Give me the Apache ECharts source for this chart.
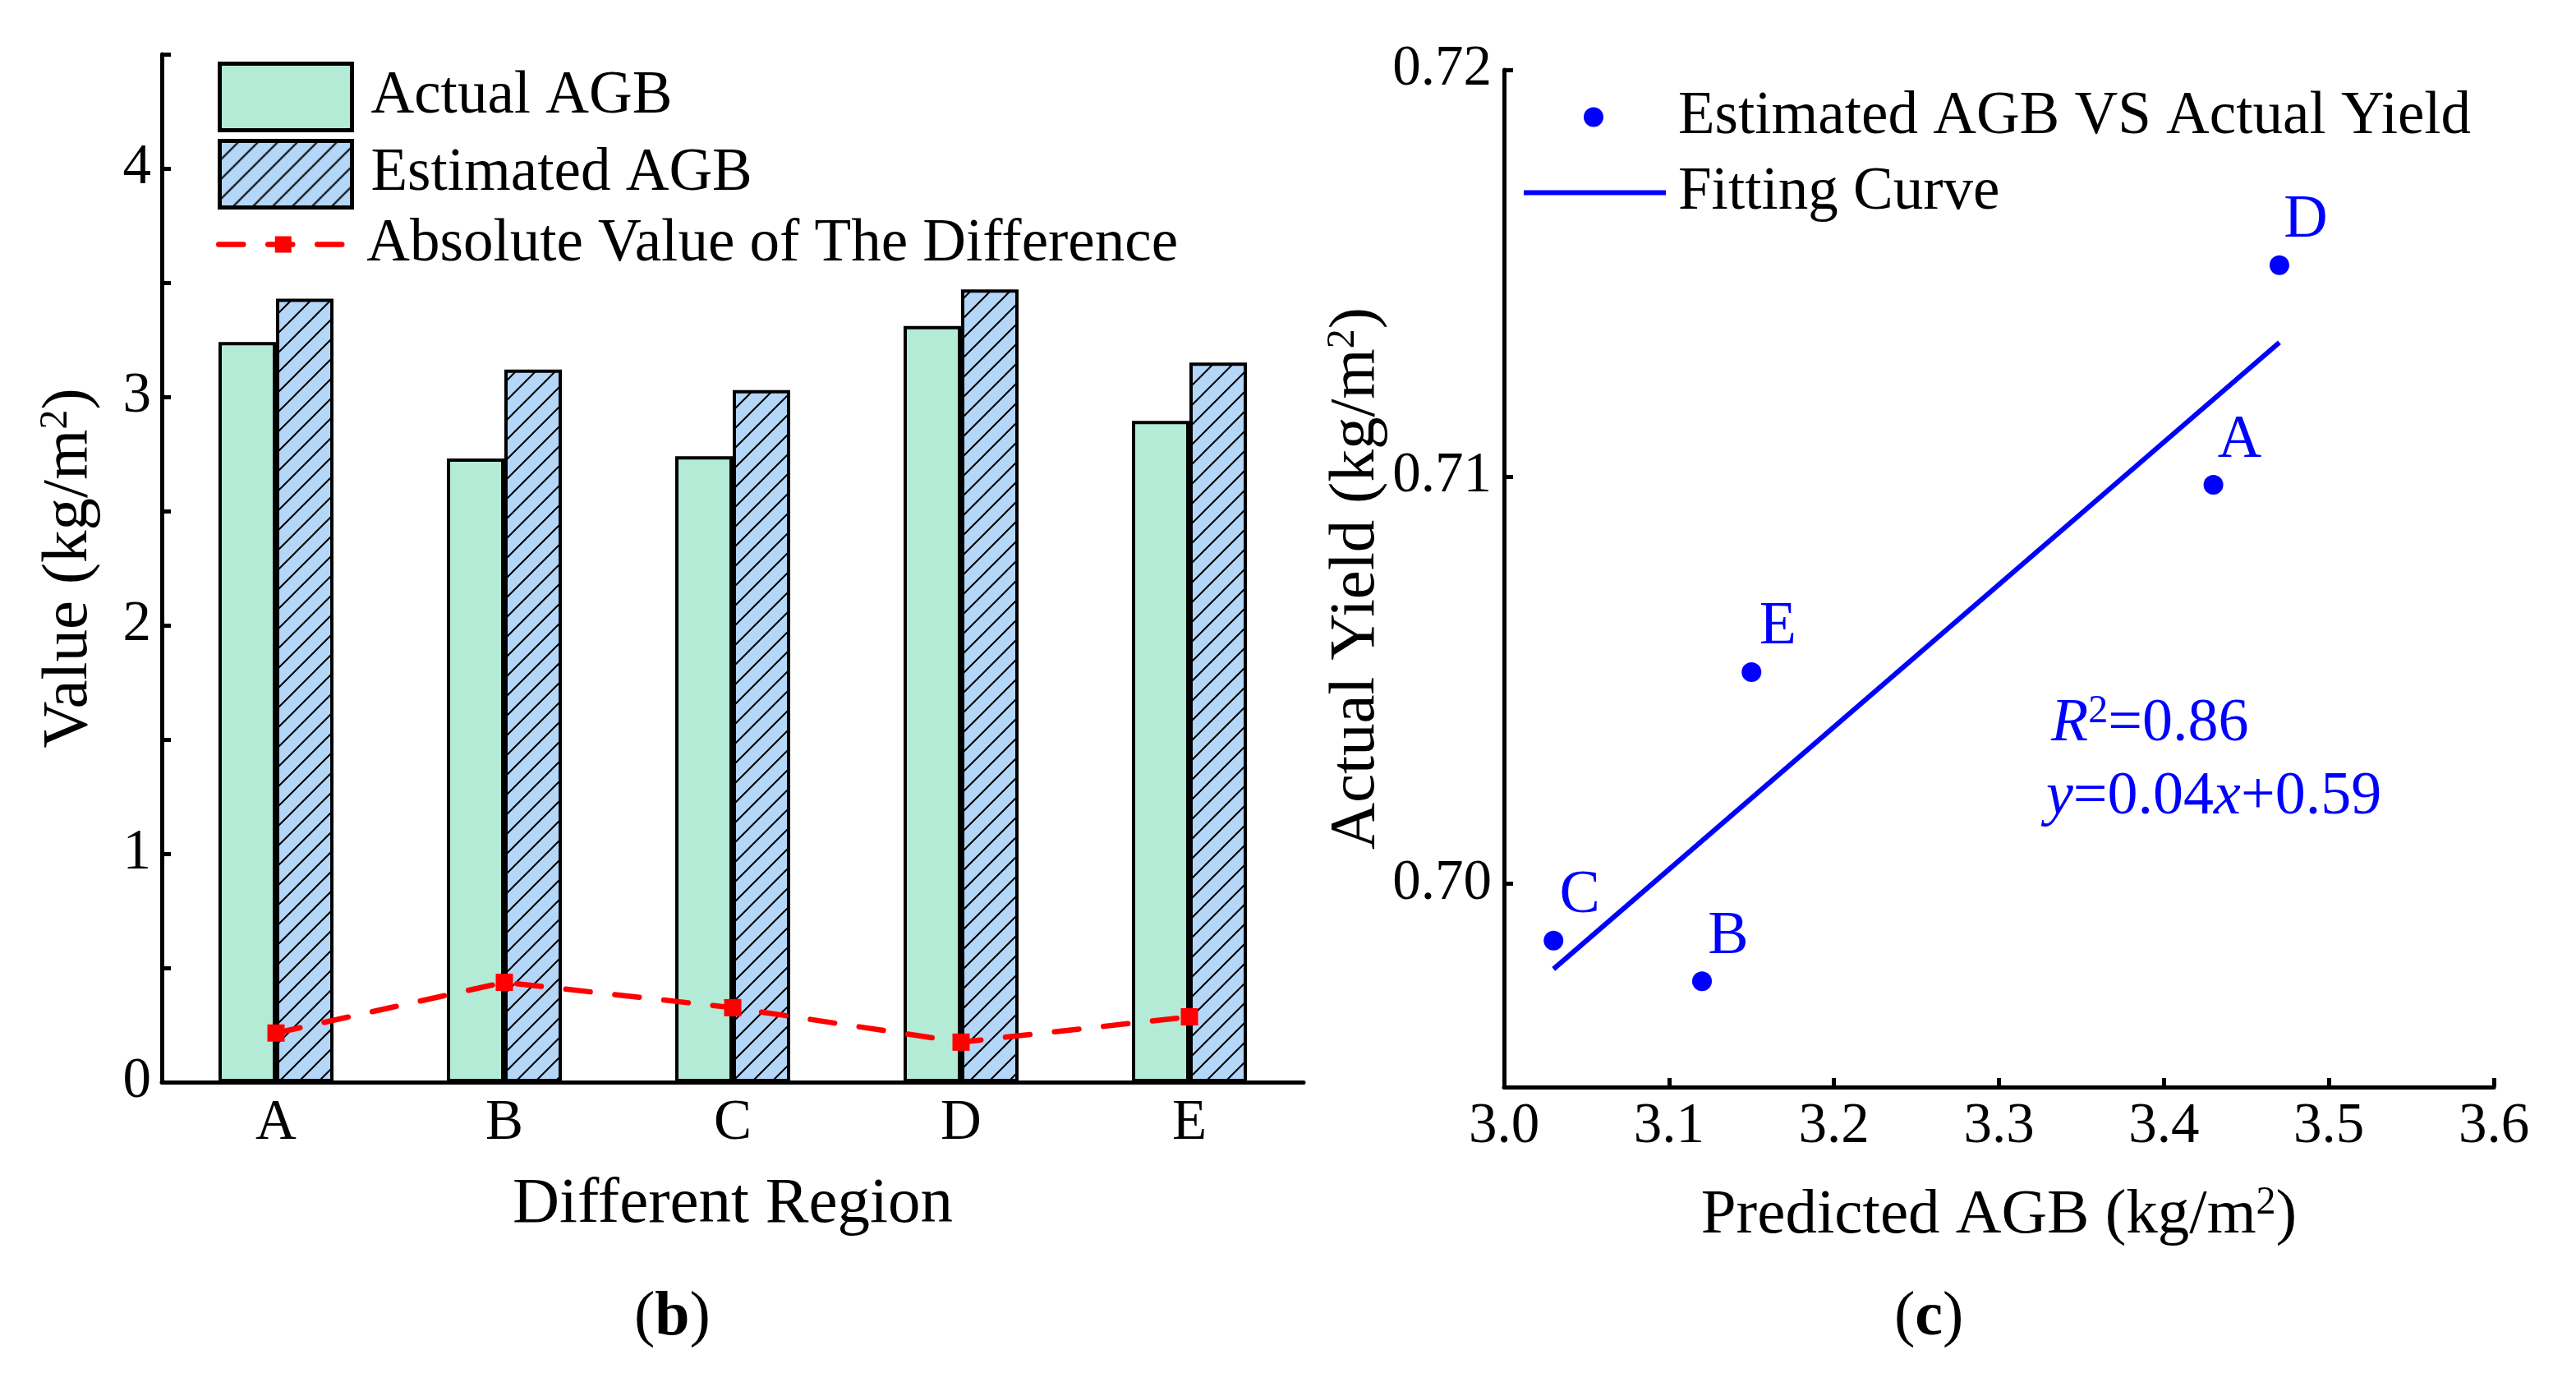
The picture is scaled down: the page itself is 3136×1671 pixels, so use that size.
<!DOCTYPE html>
<html lang="en">
<head>
<meta charset="UTF-8">
<title>AGB comparison</title>
<script src="https://cdn.jsdelivr.net/npm/echarts@6/dist/echarts.min.js"></script>
<style>
  html, body { margin: 0; padding: 0; background: #fff; }
  #chart { width: 3136px; height: 1671px; }
</style>
</head>
<body>
<div id="chart"></div>
<script>
// values
const regions = ['A', 'B', 'C', 'D', 'E'];
const actualAGB = [3.24, 2.73, 2.74, 3.31, 2.895];
const estimatedAGB = [3.43, 3.12, 3.03, 3.47, 3.15];
const absDiff = [0.215, 0.437, 0.326, 0.175, 0.286];
const actualYield = [0.7098, 0.6976, 0.6986, 0.7152, 0.7052];
const fitX = [3.03, 3.47];
const fitY = [0.6979, 0.7133];

const FONT = 'Liberation Serif';
const BLUE = '#0000ff';

// hatch tile for the estimated bars
function hatch() {
    const c = document.createElement('canvas');
    c.width = 24; c.height = 24;
    const g = c.getContext('2d');
    g.fillStyle = '#b4d6f7';
    g.fillRect(0, 0, 24, 24);
    g.strokeStyle = '#000';
    g.lineWidth = 2;
    g.beginPath();
    g.moveTo(-2, 26); g.lineTo(26, -2);
    g.moveTo(-2, 2); g.lineTo(2, -2);
    g.moveTo(22, 26); g.lineTo(26, 22);
    g.stroke();
    return c;
}

const supRich = {
    sup: { fontSize: 48, lineHeight: 32, verticalAlign: 'top', fontFamily: FONT, color: '#000' }
};

const axisLine = { show: true, lineStyle: { color: '#000', width: 5 } };
const axisTick = { show: true, inside: true, length: 11, lineStyle: { color: '#000', width: 5 } };
const tickLabel = { color: '#000', fontSize: 69, fontFamily: FONT, lineHeight: 70 };

function nameStyle(size) {
    return { color: '#000', fontSize: size, fontFamily: FONT, lineHeight: 80, rich: supRich };
}

function legendText(pad) {
    return { fontSize: 73, fontFamily: FONT, color: '#000', lineHeight: 72, padding: [0, 0, 0, pad] };
}

const chart = echarts.init(document.getElementById('chart'));
chart.setOption({
    animation: false,
    backgroundColor: '#fff',
    textStyle: { fontFamily: FONT },
    grid: [
        { left: 197, top: 66, width: 1390, height: 1251 },
        { left: 1831, top: 85, width: 1205, height: 1238 }
    ],
    legend: [
        {
            data: [{ name: 'Actual AGB', icon: 'rect' }, { name: 'Estimated AGB', icon: 'rect' }],
            orient: 'vertical', left: 265, top: 75, padding: 0,
            itemWidth: 161, itemHeight: 81, itemGap: 8, selectedMode: false,
            itemStyle: { borderWidth: 5, borderColor: '#000' },
            textStyle: legendText(18)
        },
        {
            data: ['Absolute Value of The Difference'],
            left: 263, top: 261, padding: 0,
            itemWidth: 157, itemHeight: 25, selectedMode: false,
            lineStyle: { width: 6.5 },
            textStyle: legendText(18)
        },
        {
            data: [{ name: 'Estimated AGB VS Actual Yield', icon: 'circle' }],
            left: 1928, top: 106, padding: 0,
            itemWidth: 24, itemHeight: 24, selectedMode: false,
            textStyle: legendText(86)
        },
        {
            data: [{ name: 'Fitting Curve', icon: 'rect' }],
            left: 1855, top: 198, padding: 0,
            itemWidth: 173, itemHeight: 6, selectedMode: false,
            textStyle: legendText(10)
        }
    ],
    xAxis: [
        {
            type: 'category', gridIndex: 0, data: regions,
            axisLine: axisLine, axisTick: { show: false },
            axisLabel: Object.assign({ margin: 16 }, tickLabel),
            name: 'Different Region', nameLocation: 'middle', nameGap: 109,
            nameTextStyle: nameStyle(79)
        },
        {
            type: 'value', gridIndex: 1, min: 3, max: 3.6, interval: 0.1,
            axisLine: axisLine, axisTick: axisTick, splitLine: { show: false },
            axisLabel: Object.assign({ margin: 14, formatter: v => v.toFixed(1) }, tickLabel),
            name: 'Predicted AGB (kg/m{sup|2})', nameLocation: 'middle', nameGap: 117,
            nameTextStyle: nameStyle(77)
        }
    ],
    yAxis: [
        {
            type: 'value', gridIndex: 0, min: 0, max: 4.5, interval: 0.5,
            axisLine: axisLine, axisTick: axisTick, splitLine: { show: false },
            axisLabel: Object.assign({
                margin: 13,
                formatter: v => (Math.abs(v - Math.round(v)) < 1e-6 ? String(Math.round(v)) : '')
            }, tickLabel),
            name: 'Value (kg/m{sup|2})', nameLocation: 'middle', nameGap: 73,
            nameTextStyle: nameStyle(79)
        },
        {
            type: 'value', gridIndex: 1, min: 0.695, max: 0.72, splitNumber: 2,
            axisLine: axisLine, axisTick: axisTick, splitLine: { show: false },
            axisLabel: Object.assign({
                margin: 15,
                formatter: v => (Math.abs(v * 100 - Math.round(v * 100)) < 1e-6 ? v.toFixed(2) : '')
            }, tickLabel),
            name: 'Actual Yield (kg/m{sup|2})', nameLocation: 'middle', nameGap: 135,
            nameTextStyle: nameStyle(79)
        }
    ],
    series: [
        {
            name: 'Actual AGB', type: 'bar', xAxisIndex: 0, yAxisIndex: 0,
            data: actualAGB, barWidth: 70, barGap: '0%',
            itemStyle: { color: '#b3ebd6', borderColor: '#000', borderWidth: 4 }
        },
        {
            name: 'Estimated AGB', type: 'bar', xAxisIndex: 0, yAxisIndex: 0,
            data: estimatedAGB, barWidth: 70, barGap: '0%',
            itemStyle: { color: { image: hatch(), repeat: 'repeat' }, borderColor: '#000', borderWidth: 4 }
        },
        {
            name: 'Absolute Value of The Difference', type: 'line', xAxisIndex: 0, yAxisIndex: 0,
            data: absDiff, symbol: 'rect', symbolSize: 21, z: 5,
            itemStyle: { color: '#ff0000' },
            lineStyle: { color: '#ff0000', width: 6.5, type: [30, 30], cap: 'round' }
        },
        {
            name: 'Estimated AGB VS Actual Yield', type: 'scatter', xAxisIndex: 1, yAxisIndex: 1,
            data: regions.map((r, i) => ({ name: r, value: [estimatedAGB[i], actualYield[i]] })),
            symbolSize: 24, itemStyle: { color: BLUE, opacity: 1 }, z: 4,
            label: {
                show: true, formatter: '{b}', position: 'inside', offset: [32, -54],
                color: BLUE, fontSize: 74, fontFamily: FONT, opacity: 1
            }
        },
        {
            name: 'Fitting Curve', type: 'line', xAxisIndex: 1, yAxisIndex: 1,
            data: fitX.map((x, i) => [x, fitY[i]]), symbol: 'none',
            itemStyle: { color: BLUE },
            lineStyle: { color: BLUE, width: 6 }
        }
    ],
    graphic: [
        {
            type: 'text', left: 2497, top: 842,
            style: {
                text: '{i|R}{s|2}{n|=0.86}',
                rich: {
                    i: { fontSize: 74, fontStyle: 'italic', fontFamily: FONT, fill: BLUE, lineHeight: 80 },
                    n: { fontSize: 74, fontFamily: FONT, fill: BLUE, lineHeight: 80 },
                    s: { fontSize: 48, fontFamily: FONT, fill: BLUE, lineHeight: 32, verticalAlign: 'top' }
                }
            }
        },
        {
            type: 'text', left: 2491, top: 934,
            style: {
                text: '{i|y}{n|=0.04}{i|x}{n|+0.59}',
                rich: {
                    i: { fontSize: 74, fontStyle: 'italic', fontFamily: FONT, fill: BLUE, lineHeight: 80 },
                    n: { fontSize: 74, fontFamily: FONT, fill: BLUE, lineHeight: 80 }
                }
            }
        },
        {
            type: 'text', left: 772, top: 1566,
            style: {
                text: '{n|(}{b|b}{n|)}',
                rich: {
                    n: { fontSize: 76, fontFamily: FONT, fill: '#000', lineHeight: 80 },
                    b: { fontSize: 76, fontFamily: FONT, fontWeight: 'bold', fill: '#000', lineHeight: 80 }
                }
            }
        },
        {
            type: 'text', left: 2306, top: 1566,
            style: {
                text: '{n|(}{b|c}{n|)}',
                rich: {
                    n: { fontSize: 76, fontFamily: FONT, fill: '#000', lineHeight: 80 },
                    b: { fontSize: 76, fontFamily: FONT, fontWeight: 'bold', fill: '#000', lineHeight: 80 }
                }
            }
        }
    ]
});
</script>
</body>
</html>
